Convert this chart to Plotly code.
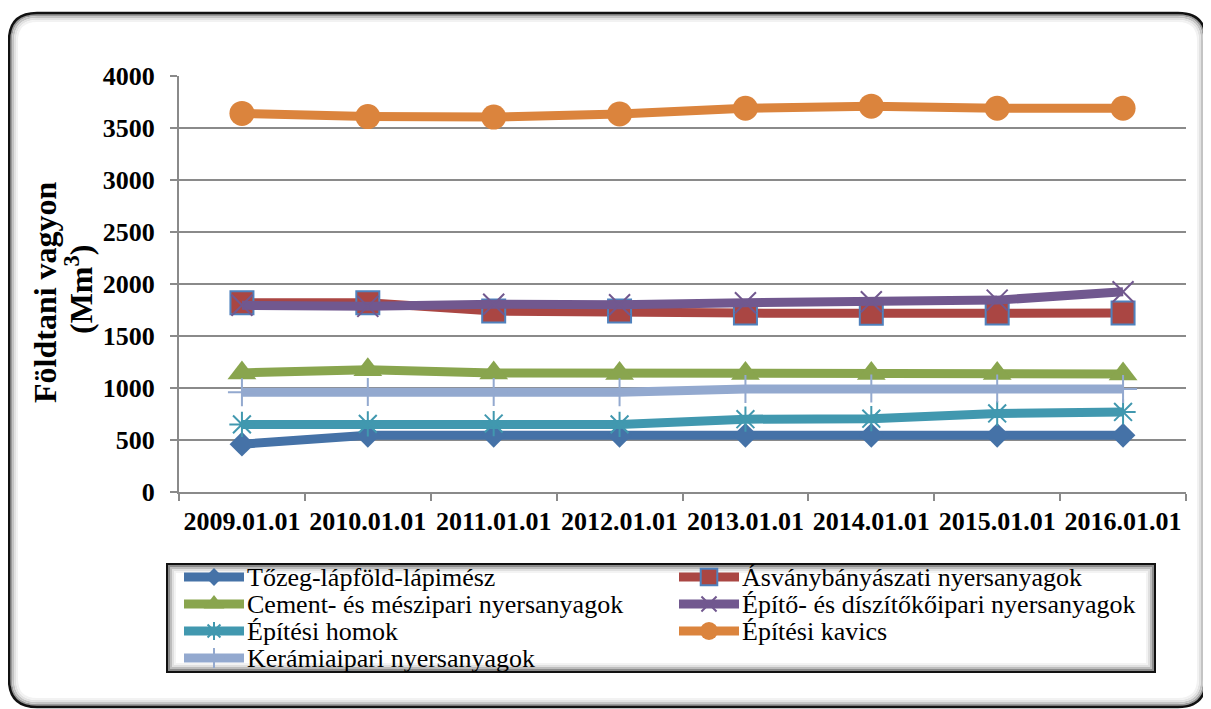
import plotly.graph_objects as go

# ---------------- data ----------------
categories = ["2009.01.01", "2010.01.01", "2011.01.01", "2012.01.01",
              "2013.01.01", "2014.01.01", "2015.01.01", "2016.01.01"]
series_names = ["Tőzeg-lápföld-lápimész", "Ásványbányászati nyersanyagok",
                "Cement- és mészipari nyersanyagok", "Építő- és díszítőkőipari nyersanyagok",
                "Építési homok", "Építési kavics", "Kerámiaipari nyersanyagok"]
tozeg = [460, 545, 545, 545, 545, 545, 545, 545]
asvany = [1820, 1820, 1740, 1740, 1720, 1718, 1720, 1720]
cement = [1145, 1175, 1145, 1140, 1140, 1140, 1140, 1135]
epito = [1795, 1785, 1805, 1800, 1820, 1830, 1845, 1925]
homok = [650, 655, 658, 650, 700, 705, 755, 770]
kavics = [3640, 3610, 3605, 3635, 3690, 3710, 3690, 3690]
keramia = [960, 962, 962, 960, 990, 995, 995, 990]
y_ticks = [0, 500, 1000, 1500, 2000, 2500, 3000, 3500, 4000]
y_title_1 = "Földtani vagyon"
y_title_2 = "(Mm<sup>3</sup>)"

values = [tozeg, asvany, cement, epito, homok, kavics, keramia]

# ---------------- styles ----------------
styles = [
    dict(color="#4572A7", symbol="diamond", size=19, mline="#4572A7", mlw=0),
    dict(color="#AA4643", symbol="square", size=23, mline="#4F81BD", mlw=2),
    dict(color="#89A54E", symbol="triangle-up", size=25, mline="#89A54E", mlw=0),
    dict(color="#71588F", symbol="x-thin-open", size=21, mline="#71588F", mlw=2),
    dict(color="#4198AF", symbol="asterisk-open", size=21, mline="#4198AF", mlw=2),
    dict(color="#DB843D", symbol="circle", size=25, mline="#DB843D", mlw=0),
    dict(color="#93A9CF", symbol="cross-thin-open", size=20, mline="#93A9CF", mlw=2),
]

PAGE_W, PAGE_H = 1211, 709
OFF = 8                      # default body margin of the html page
W, H = PAGE_W - OFF, PAGE_H - OFF
# plot area in page pixels
PX0, PX1, PY_TOP, PY_BOT = 179, 1186, 76, 492
SERIF = "Liberation Serif"
GRID = "#8a8a8a"


def dom_x(px):
    return (px - OFF) / W


def dom_y(py):
    return 1 - (py - OFF) / H


fig = go.Figure()

for name, vals, st in zip(series_names, values, styles):
    fig.add_trace(go.Scatter(
        x=categories, y=vals, name=name, mode="lines+markers",
        line=dict(color=st["color"], width=9),
        marker=dict(symbol=st["symbol"], size=st["size"], color=st["color"],
                    line=dict(color=st["mline"], width=st["mlw"])),
        xaxis="x", yaxis="y", showlegend=False, cliponaxis=False))

# ---------------- custom legend (page-pixel overlay axes) ----------------
LEG_X = [184, 679]
LEG_Y = [577, 604, 631, 658]
SAMPLE_LEN = 60
for i, (name, st) in enumerate(zip(series_names, styles)):
    r, c = divmod(i, 2)
    x0 = LEG_X[c]
    yy = LEG_Y[r]
    fig.add_trace(go.Scatter(
        x=[x0, x0 + SAMPLE_LEN], y=[yy, yy], mode="lines",
        line=dict(color=st["color"], width=9),
        xaxis="x2", yaxis="y2", showlegend=False, hoverinfo="skip"))
    fig.add_trace(go.Scatter(
        x=[x0 + SAMPLE_LEN / 2], y=[yy], mode="markers",
        marker=dict(symbol=st["symbol"], size=st["size"] * 0.72, color=st["color"],
                    line=dict(color=st["mline"], width=st["mlw"])),
        xaxis="x2", yaxis="y2", showlegend=False, hoverinfo="skip"))
    fig.add_annotation(x=x0 + SAMPLE_LEN + 1, y=yy, xref="x2", yref="y2",
                       text=name, showarrow=False, xanchor="left", yanchor="middle",
                       font=dict(family=SERIF, size=26, color="black"))

# y axis title
fig.add_annotation(x=45, y=292, xref="x2", yref="y2", text=y_title_1, textangle=-90,
                   showarrow=False, xanchor="center", yanchor="middle",
                   font=dict(family=SERIF, size=32, color="black", weight="bold"))
fig.add_annotation(x=79, y=290, xref="x2", yref="y2", text=y_title_2, textangle=-90,
                   showarrow=False, xanchor="center", yanchor="middle",
                   font=dict(family=SERIF, size=32, color="black", weight="bold"))

# ---------------- frame & legend box ----------------
def rounded(x0, y0, x1, y1, r):
    return (f"M{x0+r},{y0} L{x1-r},{y0} Q{x1},{y0} {x1},{y0+r} L{x1},{y1-r} "
            f"Q{x1},{y1} {x1-r},{y1} L{x0+r},{y1} Q{x0},{y1} {x0},{y1-r} "
            f"L{x0},{y0+r} Q{x0},{y0} {x0+r},{y0} Z")

shapes = []
FX0, FY0, FX1, FY1, FR = 9, 13, 1206, 707, 28
for k, col in enumerate(["#9a9a9a", "#c4c4c4", "#e2e2e2", "#f2f2f2"]):
    o = 2 + k * 2
    shapes.append(dict(type="path", xref="x2", yref="y2",
                       path=rounded(FX0 + o, FY0 + o, FX1 - o, FY1 - o, FR - o),
                       line=dict(color=col, width=2), layer="below"))
shapes.append(dict(type="path", xref="x2", yref="y2",
                   path=rounded(FX0, FY0, FX1, FY1, FR),
                   line=dict(color="#111111", width=2.5), layer="below"))
shapes.append(dict(type="line", xref="x2", yref="y2", x0=FX1, x1=FX1, y0=FY0 + FR + 6, y1=FY1 - FR,
                   line=dict(color="#cfcfcf", width=3), layer="below"))

LBX0, LBY0, LBX1, LBY1 = 167, 564, 1155, 672
for k, col in enumerate(["#8c8c8c", "#bdbdbd", "#e0e0e0", "#f3f3f3"]):
    o = 2 + k * 2
    shapes.append(dict(type="rect", xref="x2", yref="y2",
                       x0=LBX0 + o, y0=LBY0 + o, x1=LBX1 - o, y1=LBY1 - o,
                       line=dict(color=col, width=2), layer="below"))
shapes.append(dict(type="rect", xref="x2", yref="y2",
                   x0=LBX0, y0=LBY0, x1=LBX1, y1=LBY1,
                   line=dict(color="#111111", width=2), layer="below"))

fig.update_layout(
    template="none",
    width=W, height=H,
    margin=dict(l=0, r=0, t=0, b=0, autoexpand=False),
    paper_bgcolor="white", plot_bgcolor="rgba(0,0,0,0)",
    showlegend=False,
    shapes=shapes,
    xaxis=dict(domain=[dom_x(PX0), dom_x(PX1)], type="category", range=[-0.5, 7.5],
               tickson="boundaries", ticks="outside", ticklen=7, tickwidth=2, tickcolor=GRID,
               showline=True, linecolor=GRID, linewidth=2, showgrid=False, zeroline=False,
               ticklabelstandoff=5, tickangle=0, automargin=False,
               tickfont=dict(family=SERIF, size=26, color="black", weight="bold"),
               anchor="y", fixedrange=True),
    yaxis=dict(domain=[dom_y(PY_BOT), dom_y(PY_TOP)], range=[0, 4000],
               tickvals=y_ticks, ticktext=[str(v) for v in y_ticks],
               ticks="outside", ticklen=7, tickwidth=2, tickcolor=GRID,
               showline=True, linecolor=GRID, linewidth=2,
               showgrid=True, gridcolor=GRID, gridwidth=2, zeroline=False,
               ticklabelstandoff=10, automargin=False,
               tickfont=dict(family=SERIF, size=26, color="black", weight="bold"),
               anchor="x", fixedrange=True),
    xaxis2=dict(domain=[0, 1], range=[OFF, PAGE_W], visible=False, anchor="y2",
                fixedrange=True, automargin=False),
    yaxis2=dict(domain=[0, 1], range=[PAGE_H, OFF], visible=False, anchor="x2",
                fixedrange=True, automargin=False),
)

fig.write_html("out.html")
